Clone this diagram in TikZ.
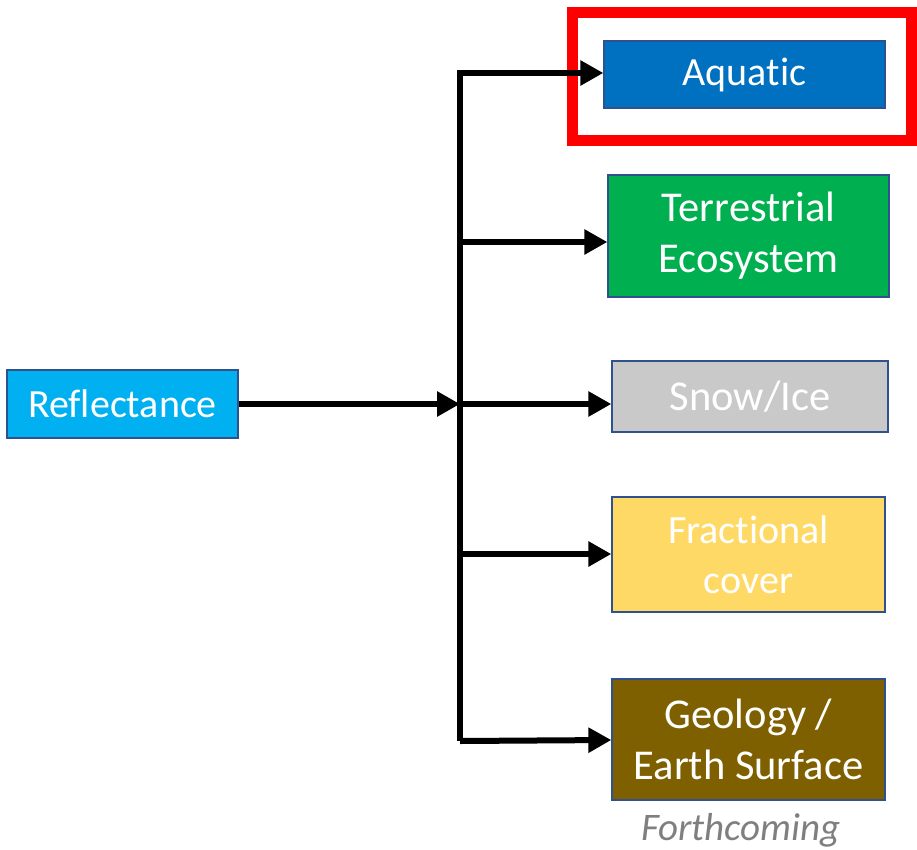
\documentclass[tikz,border=0pt]{standalone}
\usepackage{fontspec}
\setmainfont[Ligatures=NoCommon]{Carlito}
\usetikzlibrary{arrows.meta}
\definecolor{refl}{HTML}{00B0F0}
\definecolor{aqua}{HTML}{0070C0}
\definecolor{terr}{HTML}{00B050}
\definecolor{snow}{HTML}{C9C9C9}
\definecolor{frac}{HTML}{FFD966}
\definecolor{geol}{HTML}{7F6000}
\definecolor{edge}{HTML}{2F528F}
\definecolor{soon}{HTML}{7F7F7F}
\tikzset{
  box/.style={draw=edge, line width=1.3pt, text=white, align=center,
    inner sep=0pt, font=\fontsize{40}{50}\selectfont},
  big/.style={font=\fontsize{42.5}{51}\selectfont},
  link/.style={line width=6pt, -{Triangle[length=23pt,width=24pt]}},
}
\begin{document}
\begin{tikzpicture}[x=1pt,y=-1pt]
\useasboundingbox (0,0) rectangle (917,850);
% source and target boxes
\node[box, fill=refl, minimum width=231pt, minimum height=68pt] (refl) at (122.5,404) {Reflectance};
\node[box, fill=aqua, minimum width=281pt, minimum height=67pt] (aq) at (744.5,74.5) {Aquatic};
\node[box, big, fill=terr, minimum width=281pt, minimum height=122pt] (tr) at (748.5,236) {Terrestrial\\Ecosystem};
\node[box, big, fill=snow, minimum width=276pt, minimum height=71pt] (sn) at (750,396.5) {Snow/Ice};
\node[box, fill=frac, minimum width=273pt, minimum height=115pt] (fr) at (748.5,554.5) {Fractional\\cover};
\node[box, big, fill=geol, minimum width=273pt, minimum height=121pt] (ge) at (748.5,739.5) {Geology /\\Earth Surface};
\node[text=soon, font=\fontsize{39}{46}\selectfont\itshape] (fc) at (741,830) {Forthcoming};
% highlight frame
\node[draw=red, line width=11pt, minimum width=339pt, minimum height=128.5pt, inner sep=0pt] (hl) at (741.5,76.75) {};
% distribution bus
\coordinate (bus) at (460,404);
\coordinate (bustop) at (460,73);
\coordinate (busbot) at (460,741);
\draw[link, line join=miter] (busbot) -- (bustop) -- (aq.west |- bustop);
\draw[link] (refl.east) -- (bus);
\draw[link] (bus) -- (sn.west |- bus);
\draw[link] ([xshift=-3pt]bus |- 0,242) -- (tr.west |- 0,242);
\draw[link] (bus |- 0,554) -- (fr.west |- 0,554);
\draw[link] (busbot) -- (ge.west |- 0,740);
\end{tikzpicture}
\end{document}
